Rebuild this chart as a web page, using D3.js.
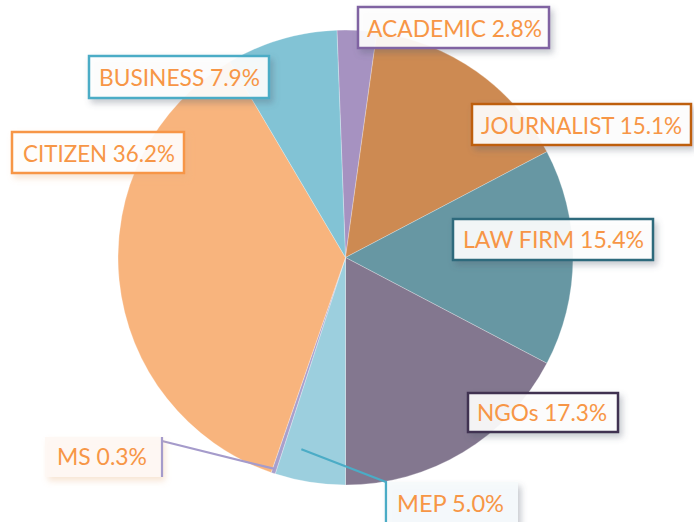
<!DOCTYPE html>
<html><head><meta charset="utf-8">
<script src="https://cdn.jsdelivr.net/npm/d3@7"></script>
<style>body{margin:0;background:#fff}svg{display:block}</style></head><body>
<svg id="c" width="694" height="522"></svg>
<script>
// ---- data ----
const categories = ["ACADEMIC","JOURNALIST","LAW FIRM","NGOs","MEP","MS","CITIZEN","BUSINESS"];
const values = [2.8, 15.1, 15.4, 17.3, 5.0, 0.3, 36.2, 7.9];
const labelTexts = ["ACADEMIC 2.8%","JOURNALIST 15.1%","LAW FIRM 15.4%","NGOs 17.3%","MEP 5.0%","MS 0.3%","CITIZEN 36.2%","BUSINESS 7.9%"];

// ---- styles ----
const sliceColors = ["#A692C1","#CD8A52","#6797A3","#83778F","#9CCFDE","#A9A0CC","#F8B47D","#82C3D5"];
const borderColors = ["#8064A2","#BE5F0E","#2F6A7B","#3F3151","#4BACC6","#A59BCB","#F79646","#4BACC6"];
const textColor = "#F79646";

// ---- layout ----
const cx = 345.5, cy = 257.5, R = 227.5;
const rotation = -0.0377; // radians
const boxes = [
  {x:358, y:7,   w:191, h:41, tx:367, ty:37,  tw:175, border:true},
  {x:472, y:104, w:219, h:41, tx:481, ty:134, tw:201, border:true},
  {x:453, y:219, w:200, h:41, tx:463, ty:248, tw:181, border:true},
  {x:468, y:393, w:150, h:39, tx:477, ty:421, tw:130, border:true},
  {x:386, y:482, w:132, h:50, tx:397, ty:512, tw:107, border:false, fill:"#F5FAFC",
     leader:{af:0.72, rf:0.865, pts:[[386,482],[386,522]]}},
  {x:45,  y:437, w:117, h:40, tx:57,  ty:465, tw:90,  border:false, fill:"#FEF8F3",
     leader:{af:0.5, rf:0.98, pts:[[162,441]], vert:[[162,437],[162,477]]}},
  {x:12,  y:132, w:172, h:41, tx:23,  ty:162, tw:152, border:true},
  {x:89,  y:56,  w:180, h:42, tx:99,  ty:86,  tw:161, border:true}
];

const svg = d3.select("#c");
const defs = svg.append("defs");
borderColors.forEach((c,i)=>{
  const f = defs.append("filter").attr("id","sh"+i)
    .attr("x","-20%").attr("y","-30%").attr("width","150%").attr("height","190%");
  f.append("feDropShadow").attr("dx",3).attr("dy",4).attr("stdDeviation",3)
    .attr("flood-color", i===5||i===6 ? "#E8B080" : "#556070").attr("flood-opacity",0.35);
});

const pie = d3.pie().sort(null).value(d=>d)
  .startAngle(rotation).endAngle(rotation + 2*Math.PI);
const arcs = pie(values);
const arc = d3.arc().innerRadius(0).outerRadius(R);

const g = svg.append("g").attr("transform",`translate(${cx},${cy})`);
g.selectAll("path").data(arcs).join("path")
  .attr("d", arc)
  .attr("fill",(d,i)=>sliceColors[i])
  .attr("stroke","#ffffff").attr("stroke-opacity",0.45).attr("stroke-width",0.6);

// leader lines
boxes.forEach((b,i)=>{
  if(!b.leader) return;
  const a = arcs[i];
  const ang = a.startAngle + b.leader.af*(a.endAngle - a.startAngle);
  const r = R*b.leader.rf;
  const p0 = [cx + r*Math.sin(ang), cy - r*Math.cos(ang)];
  svg.append("path").attr("d", d3.line()([p0, ...b.leader.pts]))
    .attr("fill","none").attr("stroke",borderColors[i]).attr("stroke-width",2.2);
});

// label boxes
boxes.forEach((b,i)=>{
  const lg = svg.append("g");
  lg.append("rect").attr("x",b.x).attr("y",b.y).attr("width",b.w).attr("height",b.h)
    .attr("fill", b.fill || "#ffffff").attr("fill-opacity", b.border?0.9:0.95)
    .attr("stroke", b.border ? borderColors[i] : "none")
    .attr("stroke-width",2.5)
    .attr("filter",`url(#sh${i})`);
  lg.append("text").attr("x",b.tx).attr("y",b.ty)
    .attr("textLength",b.tw).attr("lengthAdjust","spacingAndGlyphs")
    .attr("font-family","Lato, 'Open Sans', sans-serif").attr("font-size",24)
    .attr("fill",textColor).text(labelTexts[i]);
  if(b.leader && b.leader.vert){
    svg.append("path").attr("d", d3.line()(b.leader.vert))
      .attr("fill","none").attr("stroke",borderColors[i]).attr("stroke-width",2.2);
  }
  if(b.leader && !b.leader.vert){
    svg.append("path").attr("d", d3.line()(b.leader.pts))
      .attr("fill","none").attr("stroke",borderColors[i]).attr("stroke-width",2.2);
  }
});
</script>
</body></html>
